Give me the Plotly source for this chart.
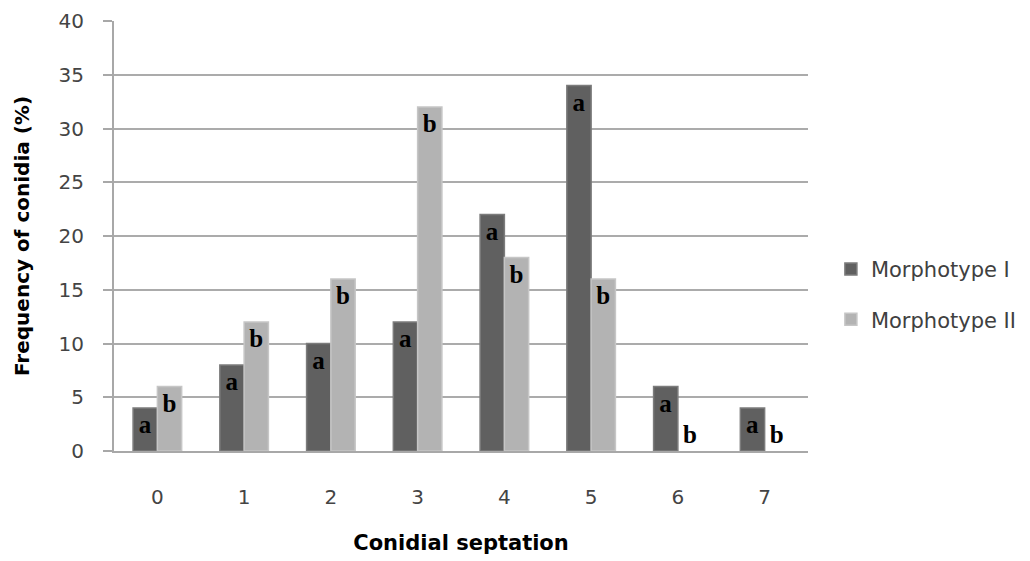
import plotly.graph_objects as go

categories = ["0", "1", "2", "3", "4", "5", "6", "7"]
morph1 = [4, 8, 10, 12, 22, 34, 6, 4]
morph2 = [6, 12, 16, 32, 18, 16, 0, 0]
labels1 = ["a"] * 8
labels2 = ["b"] * 8
y_ticks = [0, 5, 10, 15, 20, 25, 30, 35, 40]

def positions(vals):
    return ["outside" if v == 0 else "inside" for v in vals]

def outline(vals, w):
    return [0 if v == 0 else w for v in vals]

label_font = dict(family="Liberation Serif", size=25, color="black", weight="bold")

fig = go.Figure()
fig.add_trace(go.Bar(
    x=categories, y=morph1, name="Morphotype I", legendgroup="g1",
    marker=dict(color="#606060", line=dict(color="#7c7c7c", width=outline(morph1, 1.5))),
    text=labels1, textposition=positions(morph1), insidetextanchor="end",
    textfont=label_font, cliponaxis=False,
))
fig.add_trace(go.Bar(
    x=categories, y=morph2, name="Morphotype II", legendgroup="g2",
    marker=dict(color="#b3b3b3", line=dict(color="#c6c6c6", width=outline(morph2, 1.5))),
    text=labels2, textposition=positions(morph2), insidetextanchor="end",
    textfont=label_font, cliponaxis=False,
))

fig.update_layout(
    width=1030, height=561,
    margin=dict(l=106, r=230, t=13, b=118, autoexpand=False),
    paper_bgcolor="white", plot_bgcolor="white",
    barmode="group", bargap=0.44, bargroupgap=0.0,
    font=dict(family="DejaVu Sans", color="#555555", size=16),
    legend=dict(x=1.033, y=0.47, xanchor="left", yanchor="top",
                font=dict(family="DejaVu Sans", size=21, color="#404040"),
                traceorder="grouped", tracegroupgap=20, itemwidth=30),
    showlegend=True,
)
fig.update_traces(textangle=0, constraintext="none")
fig.update_xaxes(
    showline=True, linecolor="#a8a8a8", linewidth=2,
    ticks="", ticklabelstandoff=27,
    tickfont=dict(family="DejaVu Sans", size=20, color="#444444"),
    title=dict(text="<b>Conidial septation</b>", standoff=27,
               font=dict(family="DejaVu Sans", size=21, color="black")),
)
fig.update_yaxes(
    range=[0, 40], tickvals=y_ticks,
    showline=True, linecolor="#a8a8a8", linewidth=2,
    ticks="outside", ticklen=9, tickcolor="#a8a8a8", tickwidth=2,
    ticklabelstandoff=15,
    showgrid=True, gridcolor="#ababab", gridwidth=2,
    tickfont=dict(family="DejaVu Sans", size=20, color="#444444"),
    title=dict(text="<b>Frequency of conidia (%)</b>", standoff=24,
               font=dict(family="DejaVu Sans", size=20, color="black")),
    zeroline=False,
)
fig.write_html("out.html")
